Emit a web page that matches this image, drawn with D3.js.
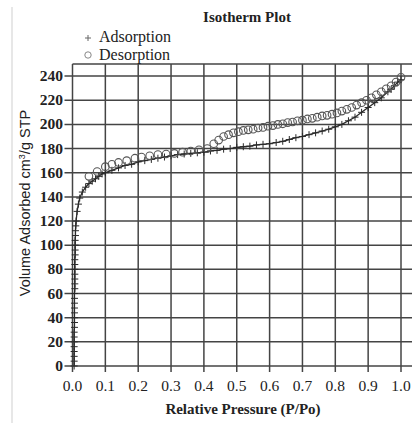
<!DOCTYPE html>
<html><head><meta charset="utf-8">
<script src="https://cdn.jsdelivr.net/npm/d3@7/dist/d3.min.js"></script>
<style>body{margin:0;background:#fff}svg{display:block}</style>
</head><body>
<svg id="c" width="412" height="423"></svg>
<script>
const xTicks = [0.0,0.1,0.2,0.3,0.4,0.5,0.6,0.7,0.8,0.9,1.0];
const yTicks = [0,20,40,60,80,100,120,140,160,180,200,220,240];
const adsorptionP = [0.005,0.005,0.005,0.005,0.005,0.005,0.005,0.005,0.006,0.006,0.006,0.006,0.006,0.006,0.006,0.006,0.007,0.007,0.007,0.007,0.007,0.007,0.007,0.008,0.008,0.008,0.008,0.009,0.009,0.01,0.011,
 0.014,0.018,0.022,0.03,0.04,0.05,0.06,0.07,0.08,0.09,0.1,0.12,0.14,0.16,0.18,0.2,0.22,0.24,0.26,0.28,0.3,0.32,0.34,0.36,0.38,0.4,0.42,0.44,0.46,0.48,0.5,0.52,0.54,0.56,0.58,0.6,0.62,0.64,0.66,0.68,0.7,0.72,0.74,0.76,0.78,0.8,0.82,0.84,0.86,0.88,0.9,0.92,0.94,0.96,0.97,0.98,0.99,1.0];
const adsorptionV = [0,4,8,12,16,20,24,28,32,36,40,44,48,52,56,60,64,68,72,76,80,84,88,92,96,100,104,108,112,116,120,
 128,134,139,144,148,151,153,155,157,159,160,162,164,166,167,169,170,171,172,173,174,175,175.5,176,176.5,177,178,178.5,179.5,180,181,181.5,182,183,183.5,184,185,186,187.5,189,190,191.5,193,194.5,196,198,200,203,206,210,214,218,222,227,229,232,235,237];
const desorptionP = [0.05,0.075,0.1,0.12,0.14,0.165,0.19,0.21,0.235,0.26,0.285,0.31,0.335,0.36,0.385,0.41,0.43,0.445,0.46,0.475,0.49,0.505,0.52,0.535,0.55,0.565,0.58,0.595,0.61,0.625,0.64,0.655,0.67,0.685,0.7,0.715,0.73,0.745,0.76,0.775,0.79,0.805,0.82,0.835,0.85,0.865,0.88,0.895,0.91,0.925,0.94,0.955,0.97,0.985,1.0];
const desorptionV = [157,161,165,167,168.5,170,172,173,174,175,175.5,176,177,178,179,180,184,187,190,191.5,193,194,195,195.5,196,197,197.5,198.5,199,200,200.5,201.5,202,203,203.5,204.5,205,206,207,207.5,208.5,209.5,211,212.5,214,216,218,220,222,224.5,227,229.5,232,235,239];

const svg = d3.select("#c");
const x = d3.scaleLinear().domain([0,1]).range([72.5,401]);
const y = d3.scaleLinear().domain([0,250]).range([366,64]);
const ink = "#2a2a2a", grid = "#444";

svg.append("line").attr("x1",12).attr("x2",12).attr("y1",7).attr("y2",423).attr("stroke","#cfcfcf").attr("stroke-width",1);

const g = svg.append("g");
g.selectAll(".hg").data(yTicks.concat([250])).join("line")
 .attr("x1",d=>d===250?x(0):x(0)-8).attr("x2",412)
 .attr("y1",d=>y(d)).attr("y2",d=>y(d))
 .attr("stroke",grid).attr("stroke-width",1.5);
g.selectAll(".vg").data(xTicks).join("line")
 .attr("x1",d=>x(d)).attr("x2",d=>x(d))
 .attr("y1",y(250)).attr("y2",y(0)+6)
 .attr("stroke",grid).attr("stroke-width",1.5);

g.selectAll(".yl").data(yTicks).join("text")
 .attr("x",63).attr("y",d=>y(d)+5).attr("text-anchor","end")
 .attr("font-family","Liberation Serif, serif").attr("font-size",15.5).attr("font-weight","bold").attr("fill","#222")
 .text(d=>d);
g.selectAll(".xl").data(xTicks).join("text")
 .attr("x",d=>x(d)).attr("y",391).attr("text-anchor","middle")
 .attr("font-family","Liberation Serif, serif").attr("font-size",15.5).attr("fill","#222")
 .text(d=>d3.format(".1f")(d));

const ads = adsorptionP.map((p,i)=>[p,adsorptionV[i]]);
const des = desorptionP.map((p,i)=>[p,desorptionV[i]]);
g.append("path").datum(ads).attr("fill","none").attr("stroke",ink).attr("stroke-width",1.3)
 .attr("d",d3.line().x(d=>x(d[0])).y(d=>y(d[1])));
g.selectAll(".am").data(ads).join("path")
 .attr("transform",d=>`translate(${x(d[0])},${y(d[1])})`)
 .attr("d","M-3.5,0H3.5M0,-3.5V3.5").attr("stroke",ink).attr("stroke-width",1);
g.selectAll(".dm").data(des).join("circle")
 .attr("cx",d=>x(d[0])).attr("cy",d=>y(d[1])).attr("r",3.8)
 .attr("fill","none").attr("stroke","#555").attr("stroke-width",1.1);

svg.append("text").attr("x",247).attr("y",22).attr("text-anchor","middle")
 .attr("font-family","Liberation Serif, serif").attr("font-size",15).attr("font-weight","bold").attr("fill","#222").text("Isotherm Plot");
svg.append("path").attr("transform","translate(88,38)").attr("d","M-3,0H3M0,-3V3").attr("stroke","#666").attr("stroke-width",1);
svg.append("circle").attr("cx",88).attr("cy",55).attr("r",3.2).attr("fill","none").attr("stroke","#888").attr("stroke-width",1);
svg.append("text").attr("x",99).attr("y",42).attr("font-family","Liberation Serif, serif").attr("font-size",16).attr("fill","#222").text("Adsorption");
svg.append("text").attr("x",99).attr("y",60).attr("font-family","Liberation Serif, serif").attr("font-size",16).attr("fill","#222").text("Desorption");

svg.append("text").attr("x",243).attr("y",414).attr("text-anchor","middle")
 .attr("font-family","Liberation Serif, serif").attr("font-size",15).attr("font-weight","bold").attr("fill","#222").text("Relative Pressure (P/Po)");
const yl = svg.append("text").attr("transform","translate(30,203) rotate(-90)").attr("text-anchor","middle")
 .attr("font-family","Liberation Sans, Arial, sans-serif").attr("font-size",14.5).attr("fill","#222");
yl.append("tspan").text("Volume Adsorbed cm");
yl.append("tspan").attr("font-size",9).attr("dy",-5).text("3");
yl.append("tspan").attr("dy",5).text("/g STP");
</script>
</body></html>
